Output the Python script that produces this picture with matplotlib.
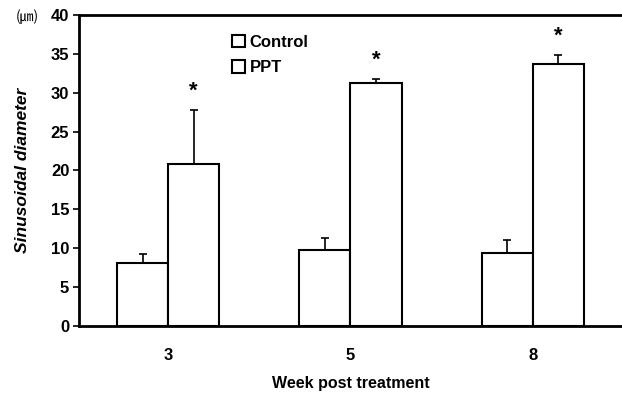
import matplotlib
matplotlib.use("Agg")
import matplotlib.pyplot as plt
import numpy as np

plt.rcParams['font.family'] = ['Liberation Sans', 'DejaVu Sans']

weeks = ["3", "5", "8"]
control = [8.1, 9.8, 9.4]
control_err = [1.2, 1.5, 1.7]
ppt = [20.8, 31.2, 33.7]
ppt_err = [7.0, 0.6, 1.2]

x = np.arange(len(weeks))
w = 0.28

fig = plt.figure(figsize=(6.22, 3.94), dpi=100)
ax = fig.add_axes([0.127, 0.173, 0.873, 0.789])

ax.bar(x - w / 2, control, w, color='white', edgecolor='black', linewidth=1.5,
       yerr=[np.zeros(3), control_err], capsize=3,
       error_kw={'elinewidth': 1.2, 'capthick': 1.2}, label='Control', zorder=2)
ax.bar(x + w / 2, ppt, w, color='white', edgecolor='black', linewidth=1.5,
       yerr=[np.zeros(3), ppt_err], capsize=3,
       error_kw={'elinewidth': 1.2, 'capthick': 1.2}, label='PPT', zorder=2)

# significance stars
for xi, v, e in zip(x, ppt, ppt_err):
    ax.text(xi + w / 2, v + e + 2.4, '*', ha='center', va='center',
            fontsize=16, fontweight='bold')

ax.set_xlim(-0.49, 2.49)
ax.set_ylim(0, 40)
ax.set_yticks(range(0, 41, 5))
ax.set_xticks(x)
ax.set_xticklabels(weeks)
ax.tick_params(axis='y', direction='out', length=4, width=1.2, labelsize=12, pad=3)
ax.tick_params(axis='x', length=0, labelsize=12, pad=16)
for lbl in ax.get_xticklabels() + ax.get_yticklabels():
    lbl.set_fontweight('bold')

ax.spines['right'].set_visible(False)
for s in ['left', 'top', 'bottom']:
    ax.spines[s].set_linewidth(2)

ax.set_xlabel('Week post treatment', fontsize=11.5, fontweight='bold', labelpad=9)
ax.set_ylabel('Sinusoidal diameter', fontsize=12.5, fontweight='bold',
              style='italic', labelpad=15)
fig.text(0.044, 0.957, '(㎛)', fontsize=10, ha='center', va='center',
         family=['Noto Sans CJK KR', 'DejaVu Sans'])

ax.legend(loc='upper left', bbox_to_anchor=(0.254, 0.985), frameon=False,
          handlelength=0.8, handleheight=0.8, handletextpad=0.25,
          labelspacing=0.6, prop={'weight': 'bold', 'size': 12})

fig.savefig('out.png', dpi=100)
